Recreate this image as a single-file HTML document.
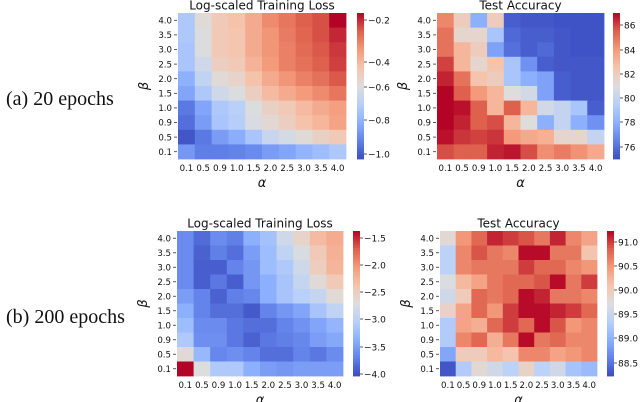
<!DOCTYPE html>
<html><head><meta charset="utf-8"><style>
html,body{margin:0;padding:0;background:#fff}
svg{display:block}
text{font-family:"DejaVu Sans","Liberation Sans",sans-serif;fill:#111}
.serif{font-family:"Liberation Serif","DejaVu Serif",serif}
</style></head><body>
<svg id="fig" width="640" height="402" viewBox="0 0 640 402" xmlns="http://www.w3.org/2000/svg">
<text class="serif" x="6" y="105" font-size="20">(a) 20 epochs</text>
<text class="serif" x="6" y="323" font-size="20">(b) 200 epochs</text>
</svg>
<script>
const alphaLabels = ["0.1","0.5","0.9","1.0","1.5","2.0","2.5","3.0","3.5","4.0"];
const betaLabels = ["4.0","3.5","3.0","2.5","2.0","1.5","1.0","0.9","0.5","0.1"];
const loss20 = [
[-0.73,-0.58,-0.51,-0.48,-0.42,-0.35,-0.31,-0.27,-0.25,-0.16],
[-0.73,-0.60,-0.51,-0.49,-0.42,-0.37,-0.32,-0.28,-0.25,-0.20],
[-0.74,-0.60,-0.51,-0.49,-0.42,-0.37,-0.33,-0.29,-0.26,-0.22],
[-0.74,-0.64,-0.53,-0.51,-0.44,-0.38,-0.33,-0.30,-0.27,-0.23],
[-0.81,-0.68,-0.58,-0.55,-0.48,-0.42,-0.37,-0.33,-0.30,-0.26],
[-0.84,-0.73,-0.64,-0.60,-0.53,-0.46,-0.42,-0.38,-0.35,-0.31],
[-0.94,-0.84,-0.73,-0.70,-0.60,-0.54,-0.51,-0.46,-0.42,-0.39],
[-0.96,-0.86,-0.74,-0.71,-0.61,-0.57,-0.53,-0.48,-0.45,-0.40],
[-1.01,-0.94,-0.86,-0.82,-0.74,-0.66,-0.62,-0.58,-0.54,-0.51],
[-0.87,-0.93,-0.93,-0.92,-0.90,-0.86,-0.84,-0.80,-0.77,-0.73]];
const acc20 = [
[84.5,82,78,82,75.5,75.3,75.3,75.2,75.2,75.2],
[85,81.5,81.5,79,75.8,75.5,75.5,75.3,75.2,75.2],
[85,83,82,77.5,76,75.5,75.8,75.3,75.2,75.2],
[86,83,81.5,82.5,79,77,75.5,75.3,75.3,75.3],
[86.5,85,82.5,82,79,78,77.5,75.5,75.3,75.3],
[87,85.5,84,83,81,80.5,77.5,75.5,75.3,75.3],
[87,86.8,85.5,83,85.5,83,80.5,80,79,75.5],
[87,86.5,85.5,85.8,83,81,78,80,78,77],
[86.8,86.2,86,86.2,84,83.5,83.2,81.5,81.5,80],
[85.8,85.5,85.5,86.5,86.7,85.8,84.3,84.8,84.2,83.5]];
const loss200 = [
[-3.64,-3.85,-3.64,-3.72,-3.37,-3.19,-2.84,-2.57,-2.30,-2.17],
[-3.64,-3.91,-3.72,-3.83,-3.51,-3.24,-2.97,-2.76,-2.44,-2.22],
[-3.64,-3.93,-3.93,-3.69,-3.56,-3.24,-3.11,-2.84,-2.49,-2.25],
[-3.64,-3.93,-3.77,-3.93,-3.56,-3.37,-3.16,-2.92,-2.65,-2.44],
[-3.51,-3.69,-3.91,-3.72,-3.67,-3.37,-3.16,-3.03,-2.92,-2.65],
[-3.37,-3.69,-3.83,-3.83,-3.96,-3.69,-3.56,-3.45,-3.16,-2.97],
[-3.24,-3.64,-3.64,-3.77,-3.83,-3.83,-3.69,-3.59,-3.45,-3.32],
[-3.11,-3.61,-3.61,-3.77,-3.91,-3.77,-3.72,-3.67,-3.51,-3.43],
[-2.65,-3.29,-3.67,-3.61,-3.69,-3.83,-3.83,-3.69,-3.77,-3.64],
[-1.37,-2.71,-3.11,-3.11,-3.37,-3.51,-3.56,-3.51,-3.51,-3.51]];
const acc200 = [
[89.8,90.5,90.8,91.1,91.0,90.9,90.7,91.1,90.6,90.4],
[89.4,90.6,90.9,90.7,90.6,91.2,91.2,90.7,90.7,90.1],
[89.4,90.6,90.7,90.7,90.7,91.0,90.8,90.8,90.6,90.5],
[89.7,90.2,90.4,90.7,90.8,90.8,90.9,91.2,90.7,91.0],
[89.6,90.0,90.8,90.7,90.8,91.2,91.1,90.7,90.7,90.6],
[89.9,90.4,90.8,90.5,91.0,91.2,91.2,91.1,91.0,90.8],
[89.3,90.4,90.3,90.8,91.0,90.8,91.2,90.9,90.5,90.6],
[89.3,90.6,90.8,90.3,90.7,91.2,90.7,90.8,90.6,90.6],
[88.9,90.0,90.0,90.2,90.1,90.6,90.6,90.4,90.5,90.6],
[88.3,89.3,89.8,89.6,89.4,89.9,89.4,89.6,89.2,89.1]];
const ticksLoss20 = ["−0.2","−0.4","−0.6","−0.8","−1.0"];
const ticksAcc20 = ["86","84","82","80","78","76"];
const ticksLoss200 = ["−1.5","−2.0","−2.5","−3.0","−3.5","−4.0"];
const ticksAcc200 = ["91.0","90.5","90.0","89.5","89.0","88.5"];

const NS="http://www.w3.org/2000/svg";
const svg=document.getElementById('fig');
const CM=[[0,[59,76,192]],[0.125,[98,130,234]],[0.25,[141,176,254]],[0.375,[184,208,249]],[0.5,[221,221,221]],[0.625,[245,196,173]],[0.75,[244,154,123]],[0.875,[222,96,77]],[1,[180,4,38]]];
function cmap(t){t=Math.max(0,Math.min(1,t));for(let i=1;i<CM.length;i++){if(t<=CM[i][0]){const a=CM[i-1],b=CM[i],f=(t-a[0])/(b[0]-a[0]);return 'rgb('+a[1].map((v,k)=>Math.round(v+(b[1][k]-v)*f)).join(',')+')';}}return 'rgb(180,4,38)';}
function mk(tag,attrs,parent){const e=document.createElementNS(NS,tag);for(const k in attrs)e.setAttribute(k,attrs[k]);(parent||svg).appendChild(e);return e;}

function heatmap(cfg){
  const g=mk('g',{});
  
  
  const nR=cfg.data.length,nC=cfg.data[0].length;
  const cw=(cfg.x1-cfg.x0)/nC,ch=(cfg.y1-cfg.y0)/nR;
  const xs=i=>cfg.x0+i*cw, ys=j=>cfg.y0+j*ch;
  const norm=v=>(v-cfg.vmin)/(cfg.vmax-cfg.vmin);
  for(let r=0;r<nR;r++)for(let c=0;c<nC;c++){
    const rc=mk('rect',{x:xs(c).toFixed(2),y:ys(r).toFixed(2),width:(cw+0.4).toFixed(2),height:(ch+0.4).toFixed(2),fill:cmap(norm(cfg.data[r][c]))},g);
    
    
  }
  const t=mk('text',{x:(cfg.x0+cfg.x1)/2,y:cfg.y0-3.5,'font-size':12,'text-anchor':'middle'},g);
  t.textContent=cfg.title;
  
  
  for(let c=0;c<nC;c++){
    const tx=mk('text',{x:xs(c)+cw/2,y:cfg.y1+12,'font-size':8.6,'text-anchor':'middle'},g);
    tx.textContent=alphaLabels[c];
    
    
  }
  for(let r=0;r<nR;r++){
    const ty=mk('text',{x:cfg.x0-6,y:ys(r)+ch/2+3.2,'font-size':8.6,'text-anchor':'end'},g);
    ty.textContent=betaLabels[r];
    
    
    mk('line',{x1:cfg.x0-4,x2:cfg.x0-1,y1:ys(r)+ch/2,y2:ys(r)+ch/2,stroke:'#333','stroke-width':0.8},g);
  }
  const xl=mk('text',{x:(cfg.x0+cfg.x1)/2,y:cfg.y1+28,'font-size':13,'text-anchor':'middle','font-style':'italic'},g);
  xl.textContent='α';
  
  
  const yx=cfg.x0-30,yy=(cfg.y0+cfg.y1)/2;
  const yl=mk('text',{x:yx,y:yy,'font-size':13,'text-anchor':'middle','font-style':'italic',transform:'rotate(-90 '+yx+' '+yy+')'},g);
  yl.textContent='β';
  
  
  const cb=mk('g',{},g);
  
  
  const steps=60,hh=(cfg.y1-cfg.y0)/steps;
  for(let i=0;i<steps;i++){mk('rect',{x:cfg.cbx,y:(cfg.y0+i*hh).toFixed(2),width:7,height:(hh+0.4).toFixed(2),fill:cmap(1-(i+0.5)/steps)},cb);}
  cfg.ticks.forEach((lab,i)=>{
    const y=cfg.tickY[i];
    mk('line',{x1:cfg.cbx+7,x2:cfg.cbx+10,y1:y,y2:y,stroke:'#333','stroke-width':0.8},cb);
    const tt=mk('text',{x:cfg.cbx+11,y:y+3.3,'font-size':9},cb);
    tt.textContent=lab;
    
    
  });
}
heatmap({name:'loss-heatmap-20-epochs',title:'Log-scaled Training Loss',data:loss20,x0:178,x1:346,y0:13,y1:159,vmin:-1.03,vmax:-0.16,cbx:357,ticks:ticksLoss20,tickY:[20,62,87,120,154]});
heatmap({name:'accuracy-heatmap-20-epochs',title:'Test Accuracy',data:acc20,x0:437,x1:604,y0:13,y1:159,vmin:75,vmax:87,cbx:613,ticks:ticksAcc20,tickY:[25,50,74,98,122,147]});
heatmap({name:'loss-heatmap-200-epochs',title:'Log-scaled Training Loss',data:loss200,x0:177,x1:343,y0:231,y1:376,vmin:-4.04,vmax:-1.37,cbx:353,ticks:ticksLoss200,tickY:[238,265,292,319,347,374]});
heatmap({name:'accuracy-heatmap-200-epochs',title:'Test Accuracy',data:acc200,x0:440,x1:597,y0:231,y1:376,vmin:88.23,vmax:91.23,cbx:607,ticks:ticksAcc200,tickY:[242,266,290,314,338,363]});
</script>
</body></html>
